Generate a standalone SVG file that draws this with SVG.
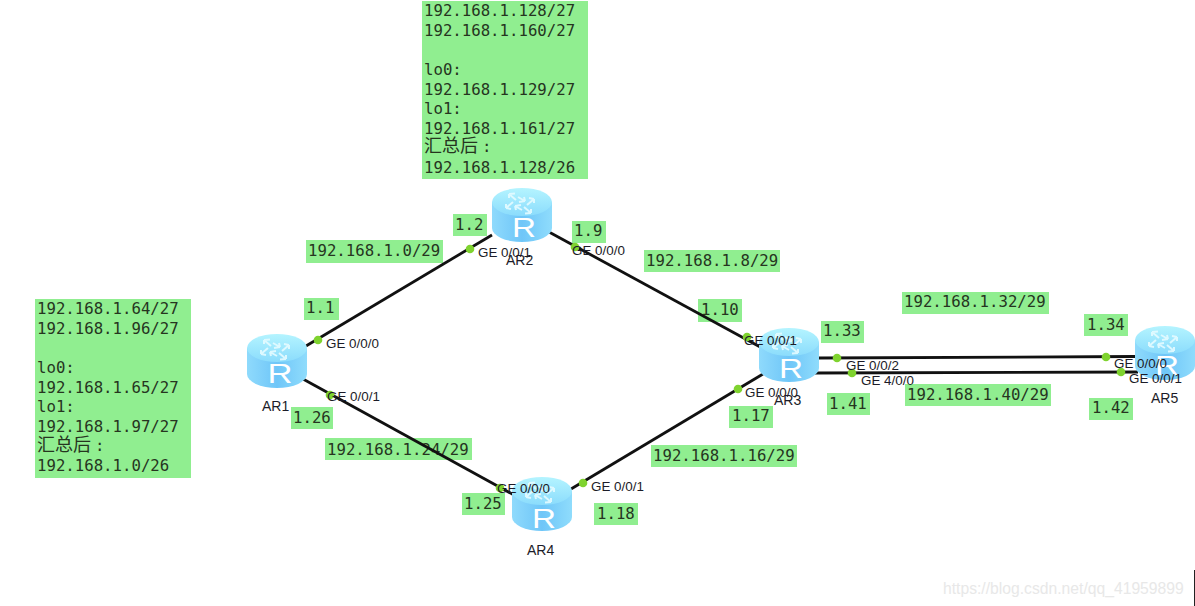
<svg xmlns="http://www.w3.org/2000/svg" width="1195" height="606" viewBox="0 0 1195 606">
<style>
.bg{fill:#90ee90}
.m{font-family:"DejaVu Sans Mono","Liberation Mono",monospace;font-size:15.7px;fill:#26351f}
.cjk{font-family:"Noto Sans CJK SC",sans-serif;font-size:18px}
.ge{font-family:"Liberation Sans",Arial,sans-serif;font-size:13.4px;fill:#1c1c28}
.name{font-family:"Liberation Sans",Arial,sans-serif;font-size:14px;fill:#1c1c28}
.r{font-family:"Liberation Sans",Arial,sans-serif;font-size:27px;fill:#fff;text-anchor:middle}
.link{stroke:#111;stroke-width:2.8;fill:none}
.dot{fill:#7fd32f}
.wm{font-family:"Liberation Sans",Arial,sans-serif;font-size:15.7px;fill:#e8e8e8}
</style>
<defs>
<linearGradient id="body" x1="0" x2="1" y1="0" y2="0">
<stop offset="0" stop-color="#8fdafc"/><stop offset="0.5" stop-color="#6fc6f8"/><stop offset="1" stop-color="#8fdcfc"/>
</linearGradient>
<linearGradient id="top" x1="0" x2="0" y1="0" y2="1">
<stop offset="0" stop-color="#b4f4ff"/><stop offset="1" stop-color="#8bdcfc"/>
</linearGradient>
<g id="router">
<path d="M0 14V40A30 14 0 0 0 60 40V14Z" fill="url(#body)"/>
<ellipse cx="30" cy="14" rx="30" ry="14" fill="url(#top)"/>
<path d="M24 12L17 6M17 6l6-.5M17 6l0 4M26 9L33 13M33 13l-1-4M33 13l-6 1M32 19L39 25M39 25l-6 .5M39 25l0-4M30 22L23 18M23 18l1 4M23 18l6-1M14 20L21 14M14 20l0-4M14 20l5 1M42 11L35 17M42 11l0 4M42 11l-5-1" fill="none" stroke="#e4fbff" stroke-width="2" stroke-opacity=".9"/>
</g>
</defs>
<rect width="1195" height="606" fill="#fff"/>

<g id="subnet-labels">
<rect class="bg" x="35" y="299" width="156" height="179"/>
<text class="m" x="37" y="314">192.168.1.64/27</text>
<text class="m" x="37" y="334">192.168.1.96/27</text>
<text class="m" x="37" y="373">lo0:</text>
<text class="m" x="37" y="393">192.168.1.65/27</text>
<text class="m" x="37" y="412">lo1:</text>
<text class="m" x="37" y="432">192.168.1.97/27</text>
<text class="m" x="37" y="451"><tspan class="cjk">汇总后</tspan><tspan dx="4">:</tspan></text>
<text class="m" x="37" y="471">192.168.1.0/26</text>

<rect class="bg" x="422" y="1" width="166" height="178"/>
<text class="m" x="424" y="16">192.168.1.128/27</text>
<text class="m" x="424" y="36">192.168.1.160/27</text>
<text class="m" x="424" y="75">lo0:</text>
<text class="m" x="424" y="95">192.168.1.129/27</text>
<text class="m" x="424" y="114">lo1:</text>
<text class="m" x="424" y="134">192.168.1.161/27</text>
<text class="m" x="424" y="152"><tspan class="cjk">汇总后</tspan><tspan dx="4">:</tspan></text>
<text class="m" x="424" y="173">192.168.1.128/26</text>

<rect class="bg" x="306" y="240" width="137" height="23"/><text class="m" x="308" y="256">192.168.1.0/29</text>
<rect class="bg" x="644" y="250" width="136" height="22"/><text class="m" x="646" y="266">192.168.1.8/29</text>
<rect class="bg" x="902" y="292" width="147" height="22"/><text class="m" x="904" y="307">192.168.1.32/29</text>
<rect class="bg" x="905" y="384" width="146" height="22"/><text class="m" x="907" y="400">192.168.1.40/29</text>
<rect class="bg" x="325" y="438" width="147" height="22"/><text class="m" x="327" y="455">192.168.1.24/29</text>
<rect class="bg" x="651" y="445" width="146" height="22"/><text class="m" x="653" y="461">192.168.1.16/29</text>

<rect class="bg" x="453" y="214" width="34" height="22"/><text class="m" x="455" y="230">1.2</text>
<rect class="bg" x="572" y="221" width="34" height="22"/><text class="m" x="574" y="236">1.9</text>
<rect class="bg" x="304" y="298" width="35" height="22"/><text class="m" x="306" y="313">1.1</text>
<rect class="bg" x="291" y="407" width="42" height="22"/><text class="m" x="293" y="423">1.26</text>
<rect class="bg" x="698" y="299" width="44" height="23"/><text class="m" x="701" y="315">1.10</text>
<rect class="bg" x="821" y="321" width="43" height="22"/><text class="m" x="823" y="336">1.33</text>
<rect class="bg" x="827" y="393" width="43" height="22"/><text class="m" x="829" y="409">1.41</text>
<rect class="bg" x="729" y="406" width="44" height="22"/><text class="m" x="732" y="421">1.17</text>
<rect class="bg" x="1084" y="314" width="44" height="22"/><text class="m" x="1087" y="330">1.34</text>
<rect class="bg" x="1089" y="398" width="44" height="22"/><text class="m" x="1092" y="413">1.42</text>
<rect class="bg" x="462" y="493" width="43" height="22"/><text class="m" x="464" y="509">1.25</text>
<rect class="bg" x="594" y="503" width="44" height="22"/><text class="m" x="597" y="519">1.18</text>
</g>

<g id="connectors">
<line class="link" x1="306" y1="346" x2="492" y2="235"/>
<line class="link" x1="303" y1="379" x2="514" y2="495"/>
<line class="link" x1="549" y1="232" x2="762" y2="348"/>
<line class="link" x1="763" y1="374" x2="571" y2="489"/>
<line class="link" x1="819" y1="358" x2="1135" y2="356.5"/>
<line class="link" x1="815" y1="373" x2="1138" y2="372"/>
</g>

<g id="AR1"><use href="#router" x="247" y="334"/><text class="r" x="280" y="383" textLength="25" lengthAdjust="spacingAndGlyphs">R</text><text class="name" x="262" y="411">AR1</text></g>
<g id="AR2"><use href="#router" x="492" y="188"/><text class="r" x="524" y="237" textLength="24" lengthAdjust="spacingAndGlyphs">R</text></g>
<g id="AR3"><use href="#router" x="759" y="328"/><text class="r" x="791" y="378" textLength="24" lengthAdjust="spacingAndGlyphs">R</text></g>
<g id="AR4"><use href="#router" x="512" y="477"/><text class="r" x="544" y="528" textLength="24" lengthAdjust="spacingAndGlyphs">R</text><text class="name" x="527" y="555">AR4</text></g>
<g id="AR5"><use href="#router" x="1135" y="326"/><text class="r" x="1167" y="375" textLength="24" lengthAdjust="spacingAndGlyphs">R</text><text class="name" x="1151" y="403">AR5</text></g>

<g id="ports">
<circle class="dot" cx="318" cy="340" r="4.3"/>
<circle class="dot" cx="330" cy="395" r="4.3"/>
<circle class="dot" cx="470" cy="249" r="4.3"/>
<circle class="dot" cx="575" cy="247" r="4.3"/>
<circle class="dot" cx="747" cy="337" r="4.3"/>
<circle class="dot" cx="738" cy="389" r="4.3"/>
<circle class="dot" cx="837" cy="358" r="4.3"/>
<circle class="dot" cx="852" cy="373" r="4.3"/>
<circle class="dot" cx="1106" cy="357" r="4.3"/>
<circle class="dot" cx="1121" cy="372" r="4.3"/>
<circle class="dot" cx="500" cy="488" r="4.3"/>
<circle class="dot" cx="583" cy="483" r="4.3"/>
<text class="ge" x="326" y="348">GE 0/0/0</text>
<text class="ge" x="327" y="401">GE 0/0/1</text>
<text class="ge" x="478" y="257">GE 0/0/1</text>
<text class="name" x="506" y="265">AR2</text>
<text class="ge" x="572" y="255">GE 0/0/0</text>
<text class="ge" x="744" y="345">GE 0/0/1</text>
<text class="ge" x="745" y="397">GE 0/0/0</text>
<text class="name" x="774" y="405">AR3</text>
<text class="ge" x="846" y="370">GE 0/0/2</text>
<text class="ge" x="861" y="385">GE 4/0/0</text>
<text class="ge" x="1114" y="368">GE 0/0/0</text>
<text class="ge" x="1129" y="383">GE 0/0/1</text>
<text class="ge" x="497" y="493">GE 0/0/0</text>
<text class="ge" x="591" y="491">GE 0/0/1</text>
</g>

<text class="wm" x="943" y="594">https://blog.csdn.net/qq_41959899</text>
<line x1="1194.5" y1="570" x2="1194.5" y2="606" stroke="#222" stroke-width="1"/>
</svg>
